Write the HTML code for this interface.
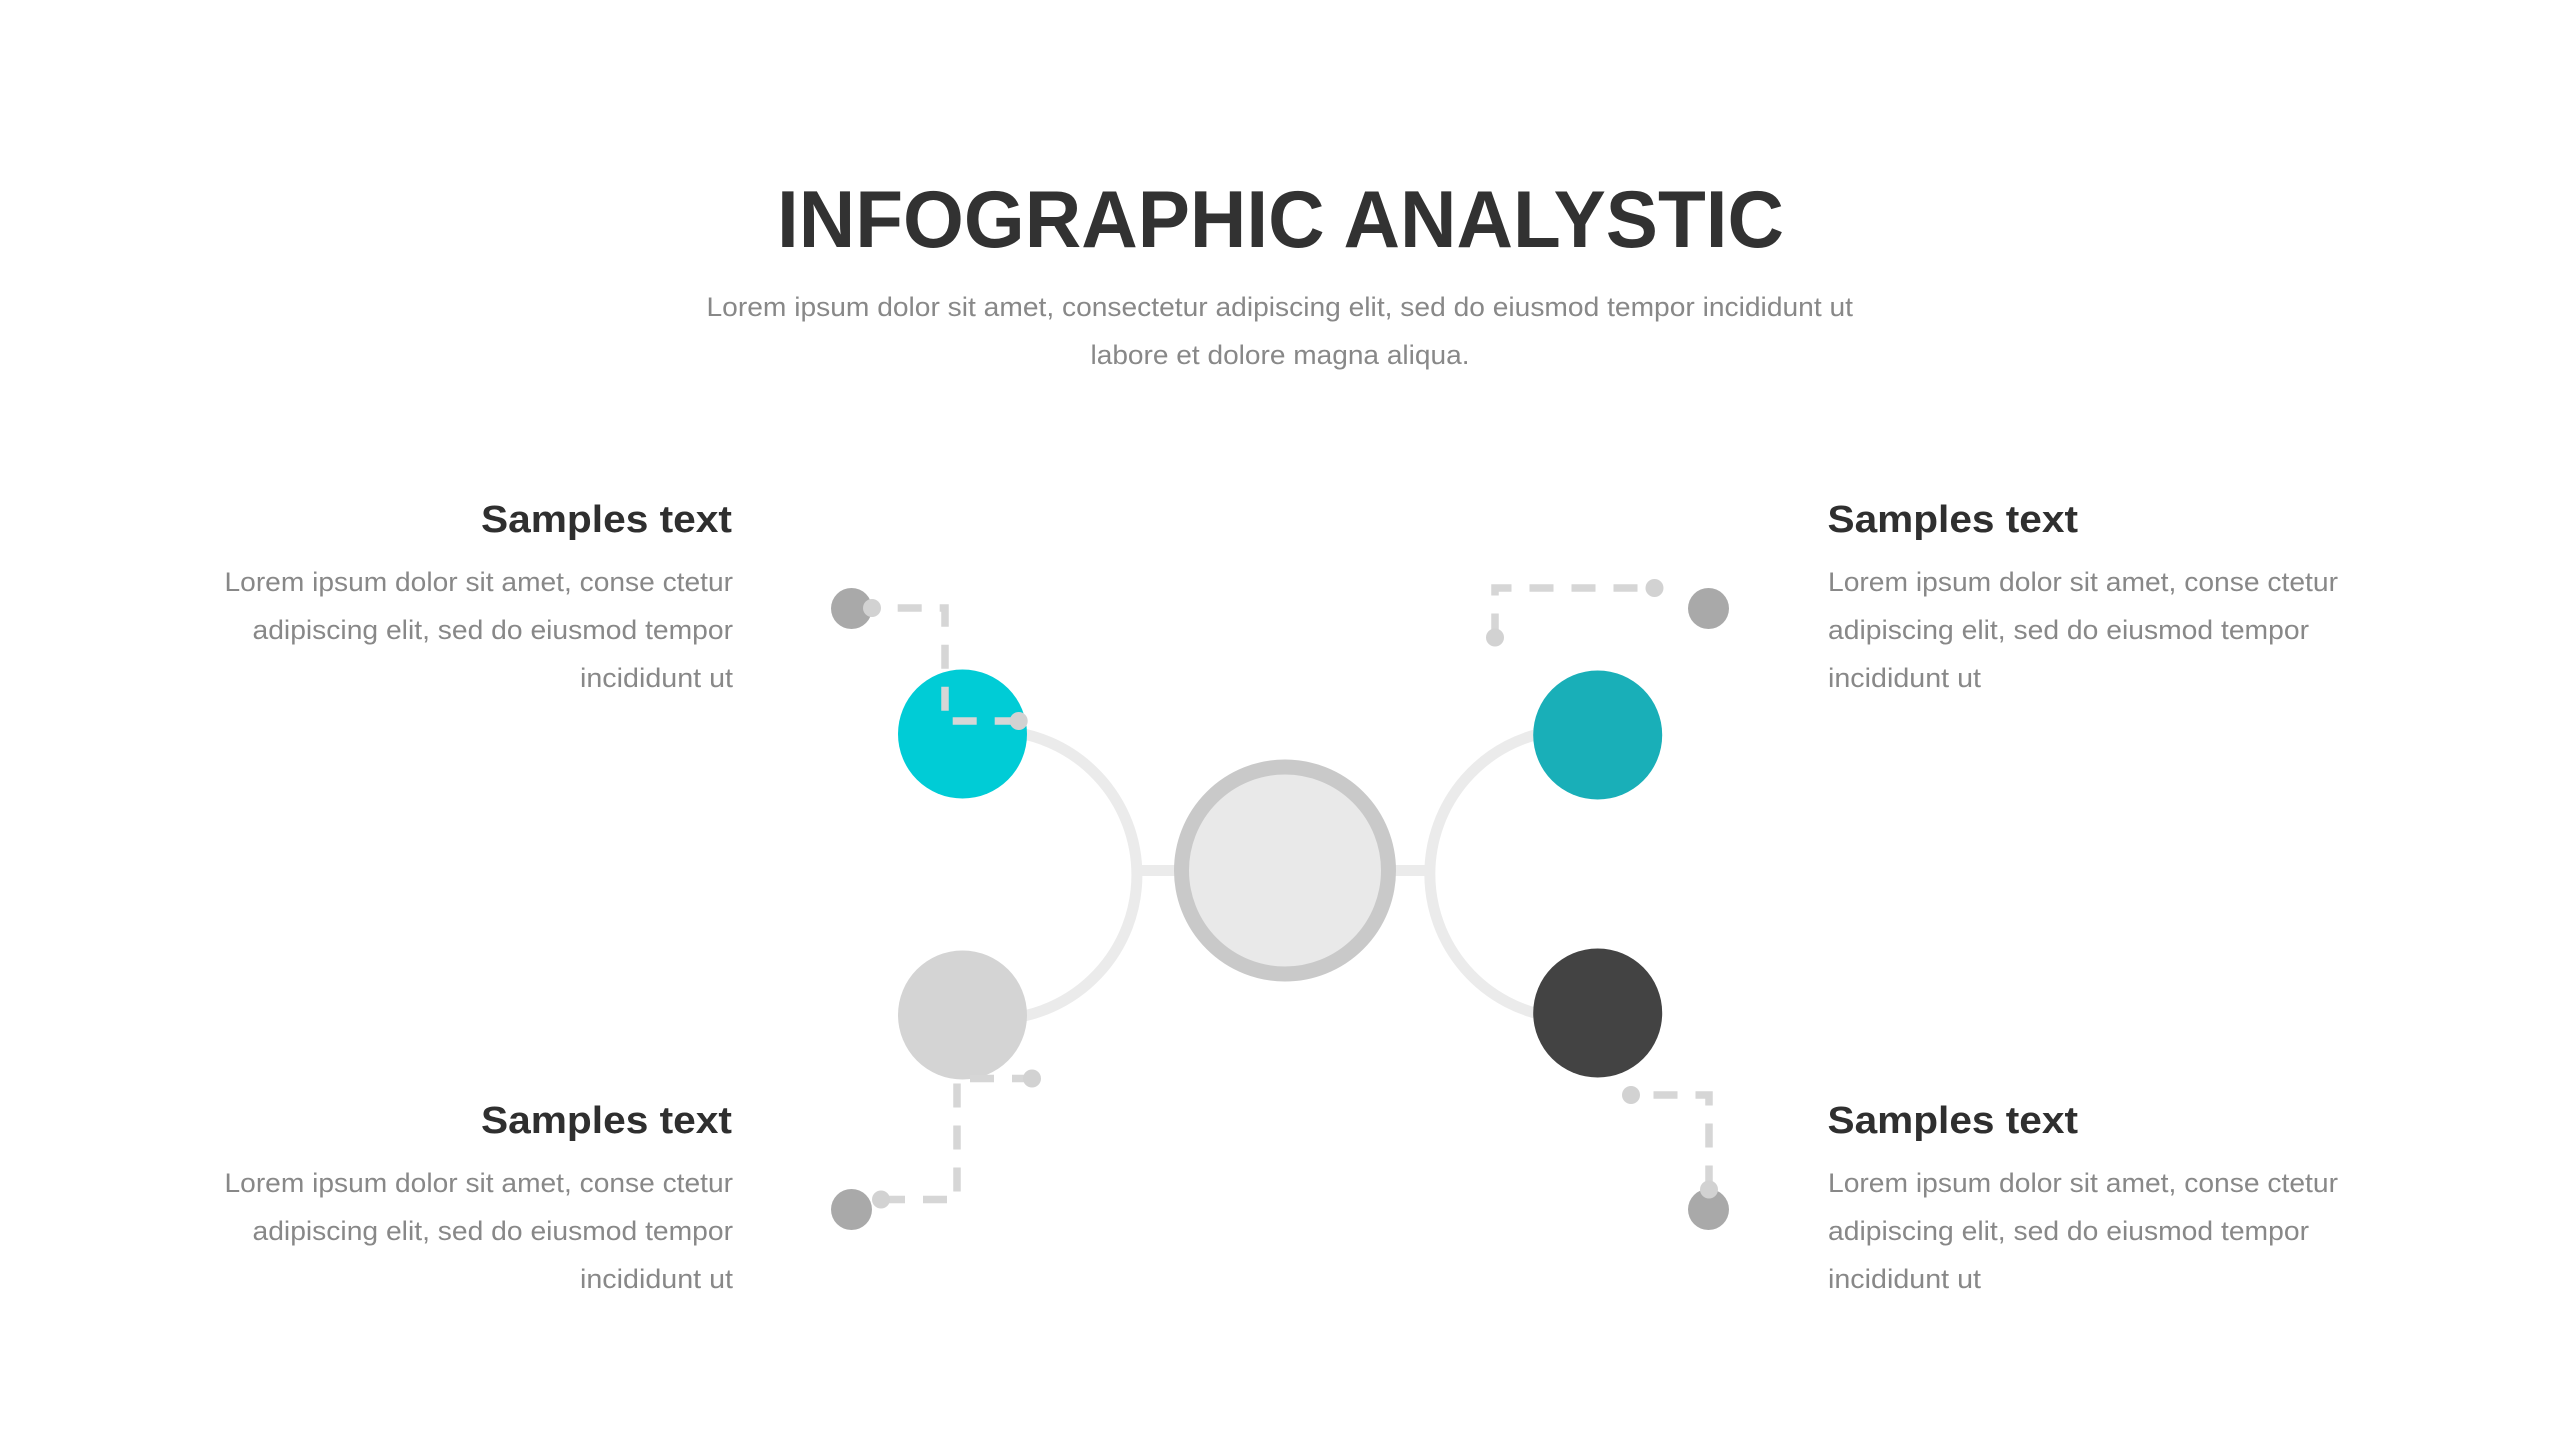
<!DOCTYPE html>
<html><head><meta charset="utf-8"><style>
html,body{margin:0;padding:0;background:#fff;width:2560px;height:1440px;overflow:hidden}
svg{display:block}
text{font-family:"Liberation Sans",sans-serif}
.t{font-size:81px;font-weight:700;fill:#323232}
.h{font-size:38px;font-weight:700;fill:#2f2f2f}
.b{font-size:27px;fill:#888888}
.arc{fill:none;stroke:#ebebeb;stroke-width:11}
.d{fill:none;stroke:#d6d6d6;stroke-width:7.5;stroke-dasharray:24 18}
</style></head><body>
<svg width="2560" height="1440" viewBox="0 0 2560 1440" xmlns="http://www.w3.org/2000/svg">
<rect width="2560" height="1440" fill="#fff"/>
<text class="t" x="777" y="247" textLength="1007" lengthAdjust="spacingAndGlyphs">INFOGRAPHIC ANALYSTIC</text>
<text class="b" x="706.5" y="316" textLength="1146.5" lengthAdjust="spacingAndGlyphs">Lorem ipsum dolor sit amet, consectetur adipiscing elit, sed do eiusmod tempor incididunt ut</text>
<text class="b" x="1090.5" y="364" textLength="379" lengthAdjust="spacingAndGlyphs">labore et dolore magna aliqua.</text>

<text class="h" x="481" y="532" textLength="251" lengthAdjust="spacingAndGlyphs">Samples text</text>
<text class="b" x="224.5" y="591" textLength="508.5" lengthAdjust="spacingAndGlyphs">Lorem ipsum dolor sit amet, conse ctetur</text>
<text class="b" x="252.5" y="639" textLength="480.5" lengthAdjust="spacingAndGlyphs">adipiscing elit, sed do eiusmod tempor</text>
<text class="b" x="580" y="687" textLength="153" lengthAdjust="spacingAndGlyphs">incididunt ut</text>

<text class="h" x="481" y="1133" textLength="251" lengthAdjust="spacingAndGlyphs">Samples text</text>
<text class="b" x="224.5" y="1192" textLength="508.5" lengthAdjust="spacingAndGlyphs">Lorem ipsum dolor sit amet, conse ctetur</text>
<text class="b" x="252.5" y="1240" textLength="480.5" lengthAdjust="spacingAndGlyphs">adipiscing elit, sed do eiusmod tempor</text>
<text class="b" x="580" y="1288" textLength="153" lengthAdjust="spacingAndGlyphs">incididunt ut</text>

<text class="h" x="1827.5" y="532" textLength="250.5" lengthAdjust="spacingAndGlyphs">Samples text</text>
<text class="b" x="1828" y="591" textLength="510" lengthAdjust="spacingAndGlyphs">Lorem ipsum dolor sit amet, conse ctetur</text>
<text class="b" x="1828" y="639" textLength="481" lengthAdjust="spacingAndGlyphs">adipiscing elit, sed do eiusmod tempor</text>
<text class="b" x="1828" y="687" textLength="153" lengthAdjust="spacingAndGlyphs">incididunt ut</text>

<text class="h" x="1827.5" y="1133" textLength="250.5" lengthAdjust="spacingAndGlyphs">Samples text</text>
<text class="b" x="1828" y="1192" textLength="510" lengthAdjust="spacingAndGlyphs">Lorem ipsum dolor sit amet, conse ctetur</text>
<text class="b" x="1828" y="1240" textLength="481" lengthAdjust="spacingAndGlyphs">adipiscing elit, sed do eiusmod tempor</text>
<text class="b" x="1828" y="1288" textLength="153" lengthAdjust="spacingAndGlyphs">incididunt ut</text>

<path class="arc" d="M1000,730.7 A144.5,144.5 0 0 1 1000,1019.3"/>
<path class="arc" d="M1555,730.8 A144.5,144.5 0 0 0 1555,1017.2"/>
<rect x="1138" y="865" width="40" height="11" fill="#ebebeb"/>
<rect x="1392" y="865" width="36" height="11" fill="#ebebeb"/>
<circle cx="1285" cy="870.5" r="103.5" fill="#e9e9e9" stroke="#c9c9c9" stroke-width="15"/>

<circle cx="962.5" cy="734" r="64.5" fill="#00ccd6"/>
<circle cx="962.5" cy="1015" r="64.5" fill="#d4d4d4"/>
<circle cx="1597.7" cy="735" r="64.5" fill="#19afb8"/>
<circle cx="1597.7" cy="1013" r="64.5" fill="#434343"/>

<circle cx="851.5" cy="608.5" r="20.5" fill="#a9a9a9"/>
<circle cx="851.5" cy="1209.5" r="20.5" fill="#a9a9a9"/>
<circle cx="1708.5" cy="608.5" r="20.5" fill="#a9a9a9"/>
<circle cx="1708.5" cy="1209.5" r="20.5" fill="#a9a9a9"/>

<path class="d" d="M1018.7,721 H945 V608 H872"/>
<path class="d" d="M881,1199.5 H957 V1078.5 H1032"/>
<path class="d" d="M1495,637.5 V588 H1654.5"/>
<path class="d" d="M1709,1189.5 V1095 H1631"/>

<circle cx="872" cy="608" r="9" fill="#d2d2d2"/>
<circle cx="1018.7" cy="721" r="9" fill="#d2d2d2"/>
<circle cx="881" cy="1199.5" r="9" fill="#d2d2d2"/>
<circle cx="1032" cy="1078.5" r="9" fill="#d2d2d2"/>
<circle cx="1495" cy="637.5" r="9" fill="#d2d2d2"/>
<circle cx="1654.5" cy="588" r="9" fill="#d2d2d2"/>
<circle cx="1631" cy="1095" r="9" fill="#d2d2d2"/>
<circle cx="1709" cy="1189.5" r="9" fill="#d2d2d2"/>
</svg>
</body></html>
